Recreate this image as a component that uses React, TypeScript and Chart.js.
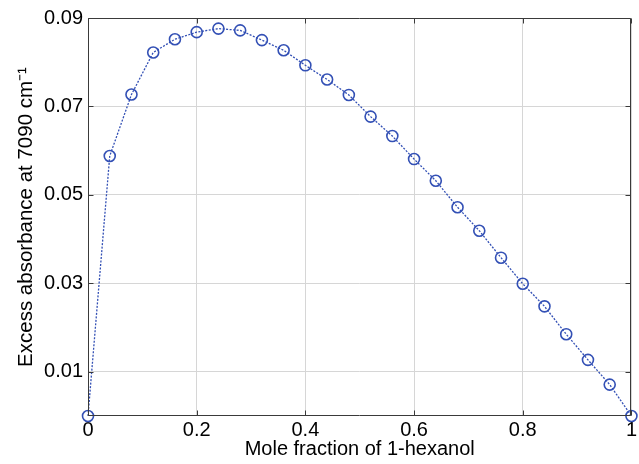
import React, { useEffect, useRef } from "react";
import { Chart, registerables } from "chart.js";

Chart.register(...registerables);

const moleFraction = [0, 0.04, 0.08, 0.12, 0.16, 0.2, 0.24, 0.28, 0.32, 0.36, 0.4, 0.44, 0.48, 0.52, 0.56, 0.6, 0.64, 0.68, 0.72, 0.76, 0.8, 0.84, 0.88, 0.92, 0.96, 1];
const excessAbsorbance = [0, 0.0588, 0.0727, 0.0822, 0.0852, 0.0868, 0.0876, 0.0872, 0.085, 0.0827, 0.0793, 0.0761, 0.0726, 0.0677, 0.0633, 0.0581, 0.0532, 0.0472, 0.0419, 0.0358, 0.0299, 0.0248, 0.0185, 0.0127, 0.0071, 0];
const xTickValues = [0, 0.2, 0.4, 0.6, 0.8, 1];
const xTickLabels = ["0", "0.2", "0.4", "0.6", "0.8", "1"];
const yTickValues = [0.01, 0.03, 0.05, 0.07, 0.09];
const yTickLabels = ["0.01", "0.03", "0.05", "0.07", "0.09"];
const xTitle = "Mole fraction of 1-hexanol";
const yTitle = "Excess absorbance at 7090 cm\u207B\u00B9";

const FONT = "'Liberation Sans', Arial, Helvetica, sans-serif";
const BLUE = "#3350b5";
const AXIS = "#3a3a3a";

const boxPlugin = {
  id: "matlabBox",
  afterDraw(chart: any) {
    const { ctx, chartArea } = chart;
    const x = chart.scales.x;
    const y = chart.scales.y;
    const l = Math.round(chartArea.left) + 0.5;
    const r = Math.round(chartArea.right) - 0.5;
    const t = Math.round(chartArea.top) + 0.5;
    const b = Math.round(chartArea.bottom) - 0.5;
    ctx.save();
    ctx.strokeStyle = AXIS;
    ctx.lineWidth = 1;
    ctx.setLineDash([]);
    ctx.beginPath();
    ctx.rect(l, t, r - l, b - t);
    ctx.stroke();
    const len = 5;
    ctx.beginPath();
    xTickValues.forEach((v) => {
      const px = Math.round(x.getPixelForValue(v)) + 0.5;
      ctx.moveTo(px, b);
      ctx.lineTo(px, b - len);
      ctx.moveTo(px, t);
      ctx.lineTo(px, t + len);
    });
    yTickValues.forEach((v) => {
      const py = Math.round(y.getPixelForValue(v)) + 0.5;
      ctx.moveTo(l, py);
      ctx.lineTo(l + len, py);
      ctx.moveTo(r, py);
      ctx.lineTo(r - len, py);
    });
    ctx.stroke();
    ctx.restore();
  },
};

export default function App() {
  const canvasRef = useRef<HTMLCanvasElement | null>(null);

  useEffect(() => {
    const canvas = canvasRef.current;
    if (!canvas) return;
    const chart = new Chart(canvas, {
      type: "line",
      data: {
        datasets: [
          {
            data: moleFraction.map((xv, i) => ({ x: xv, y: excessAbsorbance[i] })),
            borderColor: BLUE,
            borderWidth: 1.3,
            borderDash: [2, 1.5],
            pointStyle: "circle",
            pointRadius: 5.5,
            pointBorderWidth: 1.6,
            pointBorderColor: BLUE,
            pointBackgroundColor: "rgba(0,0,0,0)",
            tension: 0,
            fill: false,
            clip: false,
          },
        ],
      },
      options: {
        responsive: false,
        animation: false,
        layout: { padding: { top: 18, right: 0, left: 0, bottom: 0 } },
        plugins: {
          legend: { display: false },
          tooltip: { enabled: false },
          title: { display: false },
        },
        scales: {
          x: {
            type: "linear",
            min: 0,
            max: 1,
            afterBuildTicks: (scale: any) => {
              scale.ticks = xTickValues.map((v) => ({ value: v }));
            },
            afterFit: (scale: any) => {
              scale.height = 48;
            },
            ticks: {
              autoSkip: false,
              maxRotation: 0,
              padding: 2,
              color: "#000",
              font: { family: FONT, size: 20 },
              callback: (_v: any, i: number) => xTickLabels[i],
            },
            grid: {
              color: "#d6d6d6",
              lineWidth: 1,
              drawTicks: false,
            },
            border: { display: false },
            title: {
              display: true,
              text: xTitle,
              color: "#000",
              font: { family: FONT, size: 20 },
              padding: { top: 0, bottom: 3 },
            },
          },
          y: {
            type: "linear",
            min: 0,
            max: 0.09,
            afterBuildTicks: (scale: any) => {
              scale.ticks = yTickValues.map((v) => ({ value: v }));
            },
            afterFit: (scale: any) => {
              scale.width = 88;
            },
            ticks: {
              autoSkip: false,
              padding: 5,
              color: "#000",
              font: { family: FONT, size: 20 },
              callback: (_v: any, i: number) => yTickLabels[i],
            },
            grid: {
              color: "#d6d6d6",
              lineWidth: 1,
              drawTicks: false,
            },
            border: { display: false },
            title: {
              display: true,
              text: yTitle,
              color: "#000",
              font: { family: FONT, size: 20.5 },
              padding: { top: 14, bottom: 0 },
            },
          },
        },
      },
      plugins: [boxPlugin],
    } as any);
    return () => chart.destroy();
  }, []);

  return (
    <div style={{ position: "absolute", left: 0, top: 0, width: 639, height: 464, background: "#fff" }}>
      <canvas ref={canvasRef} width={639} height={464} style={{ display: "block" }} />
    </div>
  );
}
